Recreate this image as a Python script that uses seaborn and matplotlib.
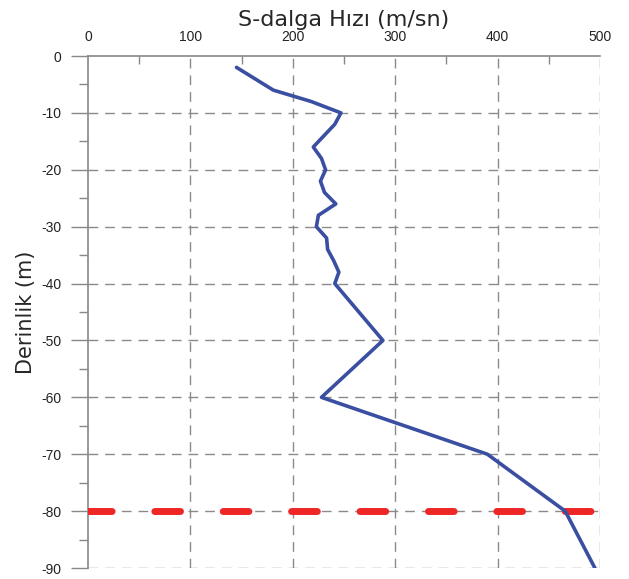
import matplotlib
matplotlib.use("Agg")
import matplotlib.pyplot as plt
import seaborn as sns
import pandas as pd
from matplotlib.ticker import MultipleLocator

# Data
depth = [-2, -6, -8, -10, -12, -16, -18, -20, -22, -24, -26, -28, -30,
         -32, -34, -36, -38, -40, -50, -60, -70, -80, -90]
velocity = [145, 181, 218, 247, 241, 220, 228, 232, 227, 231, 242, 225, 223,
            233, 234, 240, 245, 241, 288, 228, 390, 466, 495]
ref_depth = [-80, -80]
ref_x = [0, 500]
x_ticks = [0, 100, 200, 300, 400, 500]
y_ticks = [0, -10, -20, -30, -40, -50, -60, -70, -80, -90]

sns.set_style("white")
plt.rcParams['font.family'] = ['Liberation Sans', 'DejaVu Sans']
plt.rcParams['axes.unicode_minus'] = False

df = pd.DataFrame({"depth": depth, "velocity": velocity})

fig = plt.figure(figsize=(6.29, 5.79), dpi=100)
ax = fig.add_axes([88/629, 1-568/579, 512/629, 512/579])

grid_kw = dict(color="#8a8a8a", lw=1.0, linestyle=(0, (7, 5)), zorder=1)
for xv in x_ticks[1:]:
    ax.axvline(xv, **grid_kw)
for yv in y_ticks[1:]:
    ax.axhline(yv, **grid_kw)

# red reference line
ax.plot(ref_x, ref_depth, color="#ee2626", lw=5.0, linestyle=(0.3, (3.7, 6.15)),
        dash_capstyle="round", zorder=3)

sns.lineplot(data=df, x="velocity", y="depth", sort=False, estimator=None,
             color="#3a4ea2", lw=2.6, ax=ax, zorder=4)

ax.set_xlim(0, 500)
ax.set_ylim(-90, 0)
ax.xaxis.tick_top()
ax.xaxis.set_label_position("top")
ax.set_xticks(x_ticks)
ax.set_yticks(y_ticks)
ax.xaxis.set_minor_locator(MultipleLocator(50))
ax.yaxis.set_minor_locator(MultipleLocator(5))
ax.tick_params(axis="x", which="major", length=0, pad=8.5, labelsize=10, colors="#222222")
ax.tick_params(axis="x", which="minor", direction="in", length=6, width=1, color="#888888", top=True)
ax.tick_params(axis="y", which="major", direction="out", length=12, width=1, color="#888888",
               pad=7, labelsize=10, labelcolor="#222222", left=True)
ax.tick_params(axis="y", which="minor", direction="out", length=6.5, width=1, color="#888888", left=True)

for s in ["right", "bottom"]:
    ax.spines[s].set_visible(False)
for s in ["left", "top"]:
    ax.spines[s].set_color("#888888")
    ax.spines[s].set_linewidth(1.2)

ax.set_xlabel("S-dalga Hızı (m/sn)", fontsize=16, family=["DejaVu Sans"], labelpad=3)
ax.set_ylabel("Derinlik (m)", fontsize=15, family=["DejaVu Sans"], labelpad=4)

fig.savefig("out.png", dpi=100)
